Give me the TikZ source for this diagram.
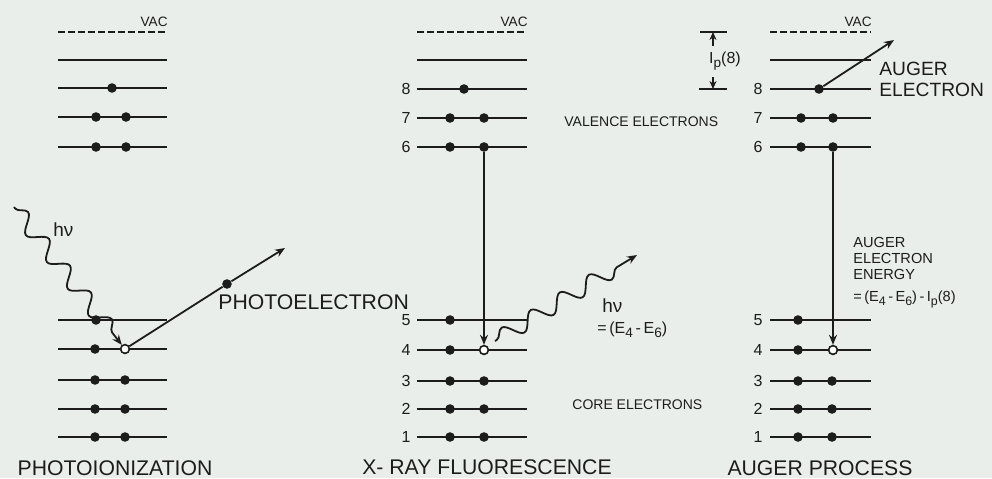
\documentclass[tikz,border=0pt]{standalone}
\usepackage{fontspec}
\usepackage{graphicx}
\setmainfont{Liberation Sans}
\usetikzlibrary{arrows.meta,decorations.pathmorphing}
\definecolor{paper}{RGB}{234,238,234}
\definecolor{ink}{RGB}{28,28,28}
\newcommand{\dn}[1]{\raisebox{-0.5ex}{\scalebox{0.85}{#1}}}

\begin{document}
\begin{tikzpicture}[
    x=0.5pt, y=-0.5pt,
    level/.style={draw=ink, line width=1.2pt},
    vaclevel/.style={level, dash pattern=on 3.5pt off 1.5pt},
    electron/.style={circle, fill=ink, inner sep=0pt, minimum size=4.8pt},
    hole/.style={circle, draw=ink, fill=white, line width=0.8pt, inner sep=0pt, minimum size=4.4pt},
    arrow/.style={draw=ink, -{Stealth[length=5pt,width=4pt]}, line width=0.9pt},
    photon/.style={arrow, decorate,
        decoration={snake, segment length=17pt, amplitude=4pt, pre length=1pt, post length=5pt}},
    title/.style={text=ink, inner sep=0pt, font=\fontsize{10.6}{12}\selectfont},
    tag/.style={text=ink, inner sep=0pt, font=\fontsize{7}{8}\selectfont},
    vac/.style={text=ink, inner sep=0pt, anchor=south east, font=\fontsize{6.8}{7}\selectfont},
    num/.style={text=ink, inner sep=0pt, anchor=east, font=\fontsize{8}{9}\selectfont},
    hv/.style={text=ink, inner sep=0pt, anchor=west, font=\fontsize{9.5}{10}\selectfont}
]
\fill[paper] (0,0) rectangle (992,478);
\useasboundingbox (0,0) rectangle (992,478);

% === PHOTOIONIZATION ===

% Livelli
\draw[vaclevel] (58,32) -- (167,32);
\node[vac] (vacP) at (168,27) {VAC};
\foreach \y in {60,88,117,147,320,349,380,409,437}
    \draw[level] (58,\y) -- (167,\y);

% Elettroni
\node[electron] (pE8) at (112,88) {};
\node[electron] (pL7) at (96,117) {};
\node[electron] (pR7) at (126,117) {};
\node[electron] (pL6) at (96,147) {};
\node[electron] (pR6) at (126,147) {};
\node[electron] (pL5) at (96,320) {};
\node[electron] (pL4) at (95,349) {};
\node[hole] (pHole) at (125,349) {};
\foreach \y/\n in {380/3, 409/2, 437/1} {
    \node[electron] (pL\n) at (95,\y) {};
    \node[electron] (pR\n) at (125,\y) {};
}

% Fotone entrante
\coordinate (pPhoton) at (14,207);
\draw[photon] (pPhoton) -- (pHole);
\node[hv] (pHv) at (53,230) {hν};

% Fotoelettrone
\node[electron] (pOut) at (227,284) {};
\coordinate (pEnd) at (285,248);
\draw[arrow] (pHole) -- (pOut) -- (pEnd);
\node[title, anchor=west] (pOutLabel) at (218,302) {PHOTOELECTRON};

\node[title] (pTitle) at (115,468) {PHOTOIONIZATION};

% === X-RAY FLUORESCENCE ===

% Livelli
\draw[vaclevel] (417,32) -- (527,32);
\node[vac] (vacX) at (528,27) {VAC};
\draw[level] (417,60) -- (527,60);
\foreach \y/\n in {89/8, 118/7, 147/6, 320/5, 350/4, 381/3, 409/2, 437/1} {
    \draw[level] (417,\y) -- (527,\y);
    \node[num] (xNum\n) at (411,\y) {\n};
}

% Elettroni
\node[electron] (xE8) at (464,89) {};
\node[electron] (xL7) at (450,118) {};
\node[electron] (xR7) at (484,118) {};
\node[electron] (xL6) at (450,147) {};
\node[electron] (xR6) at (484,147) {};
\node[electron] (xL5) at (450,320) {};
\node[electron] (xL4) at (450,350) {};
\node[hole] (xHole) at (484,350) {};
\foreach \y/\n in {381/3, 409/2, 437/1} {
    \node[electron] (xL\n) at (450,\y) {};
    \node[electron] (xR\n) at (484,\y) {};
}

% Transizione 6 -> 4
\draw[arrow] (xR6) -- (xHole);

% Fotone uscente
\coordinate (xStart) at (495,341);
\coordinate (xEnd) at (637,255);
\draw[photon] (xStart) -- (xEnd);
\node[hv] (xHv) at (602,306) {hν};
\node[tag, anchor=west, font=\fontsize{8}{9}\selectfont] (xEnergy) at (597,330) {=\,(E\dn{4}\,-\,E\dn{6})};

\node[tag, anchor=west] (valence) at (564,122) {VALENCE ELECTRONS};
\node[tag, anchor=west] (core) at (572,405) {CORE ELECTRONS};

\node[title] (xTitle) at (487,467) {X- RAY FLUORESCENCE};

% === AUGER PROCESS ===

% Livelli
\draw[vaclevel] (770,32) -- (871,32);
\node[vac] (vacA) at (872,27) {VAC};
\draw[level] (770,60) -- (871,60);
\foreach \y/\n in {89/8, 118/7, 147/6, 320/5, 350/4, 381/3, 409/2, 437/1} {
    \draw[level] (770,\y) -- (871,\y);
    \node[num] (aNum\n) at (763,\y) {\n};
}

% Elettroni
\node[electron] (aE8) at (819,89) {};
\node[electron] (aL7) at (801,118) {};
\node[electron] (aR7) at (833,118) {};
\node[electron] (aL6) at (801,147) {};
\node[electron] (aR6) at (833,147) {};
\node[electron] (aL5) at (798,320) {};
\node[electron] (aL4) at (798,350) {};
\node[hole] (aHole) at (833,350) {};
\foreach \y/\n in {381/3, 409/2, 437/1} {
    \node[electron] (aL\n) at (798,\y) {};
    \node[electron] (aR\n) at (832,\y) {};
}

% Transizione 6 -> 4
\draw[arrow] (aR6) -- (aHole);

% Elettrone Auger
\coordinate (aEnd) at (894,40);
\draw[arrow] (aE8) -- (aEnd);
\node[title, anchor=west, align=left, font=\fontsize{9.6}{10.6}\selectfont] (aOutLabel) at (879,79) {AUGER\\ELECTRON};

% Potenziale di ionizzazione I_p(8)
\draw[level, line width=1pt] (700,32) -- (727,32);
\draw[level, line width=1pt] (699,89) -- (727,89);
\coordinate (ipTop) at (713,32);
\coordinate (ipBot) at (713,89);
\draw[arrow, -{Stealth[length=4pt,width=3.5pt]}] (ipTop) ++(0,14) -- (ipTop);
\draw[arrow, -{Stealth[length=4pt,width=3.5pt]}] (ipBot) ++(0,-12) -- (ipBot);
\node[tag, font=\fontsize{8}{9}\selectfont] (ipLabel) at (725,61) {I\dn{p}(8)};

\node[tag, anchor=north west, align=left, font=\fontsize{7.3}{8}\selectfont] (aEnergy) at (853,237)
    {AUGER\\ELECTRON\\ENERGY\\[3pt]=\,(E\dn{4}\,-\,E\dn{6})\,-\,I\dn{p}(8)};

\node[title] (aTitle) at (820,468) {AUGER PROCESS};

\end{tikzpicture}
\end{document}
